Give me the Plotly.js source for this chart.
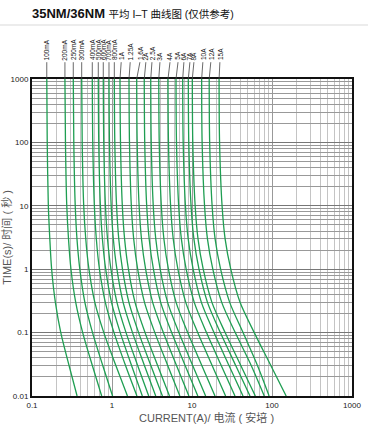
<!DOCTYPE html>
<html><head><meta charset="utf-8">
<script src="https://cdn.plot.ly/plotly-3.0.1.min.js"></script>
<style>html,body{margin:0;padding:0;background:#fff}#chart{width:382px;height:428px}</style>
</head><body><div id="chart"></div>
<script>
// fuse ratings (curve labels)
const ratings = ["100mA","200mA","250mA","300mA","400mA","500mA","600mA","700mA","800mA","1A","1.25A","1.6A","2A","2.5A","3A","4A","5A","6A","7A","8A","10A","12A","15A"];
// times (s) at which the currents are read
const times = [1000, 100, 10, 3, 1, 0.3, 0.1, 0.03, 0.01];
// current (A) of each curve at those times
const c100mA = [0.153, 0.155, 0.160, 0.167, 0.176, 0.196, 0.229, 0.291, 0.366];
const c200mA = [0.258, 0.262, 0.272, 0.286, 0.307, 0.352, 0.430, 0.569, 0.743];
const c250mA = [0.328, 0.333, 0.347, 0.365, 0.396, 0.458, 0.571, 0.768, 1.016];
const c300mA = [0.418, 0.424, 0.443, 0.470, 0.515, 0.610, 0.790, 1.120, 1.560];
const c400mA = [0.567, 0.575, 0.602, 0.637, 0.697, 0.825, 1.060, 1.480, 2.050];
const c500mA = [0.674, 0.683, 0.716, 0.759, 0.834, 0.986, 1.268, 1.760, 2.395];
const c600mA = [0.778, 0.789, 0.828, 0.879, 0.970, 1.153, 1.497, 2.097, 2.876];
const c700mA = [0.917, 0.930, 0.977, 1.039, 1.152, 1.377, 1.804, 2.549, 3.520];
const c800mA = [1.069, 1.084, 1.141, 1.215, 1.352, 1.627, 2.150, 3.067, 4.269];
const c1A    = [1.259, 1.277, 1.346, 1.437, 1.604, 1.941, 2.590, 3.728, 5.229];
const c1_25A = [1.631, 1.654, 1.745, 1.867, 2.093, 2.548, 3.432, 4.983, 7.044];
const c1_6A  = [2.036, 2.064, 2.183, 2.337, 2.632, 3.223, 4.381, 6.420, 9.146];
const c2A    = [2.53, 2.565, 2.715, 2.915, 3.294, 4.058, 5.566, 8.233, 11.82];
const c2_5A  = [3.05, 3.093, 3.279, 3.526, 3.999, 4.956, 6.859, 10.23, 14.80];
const c3A    = [3.84, 3.894, 4.136, 4.454, 5.073, 6.324, 8.832, 13.30, 19.38];
const c4A    = [5.01, 5.080, 5.401, 5.827, 6.663, 8.357, 11.78, 17.90, 26.30];
const c5A    = [6.31, 6.398, 6.815, 7.364, 8.455, 10.67, 15.18, 23.27, 34.45];
const c6A    = [7.65, 7.757, 8.277, 8.958, 10.33, 13.10, 18.82, 29.11, 43.44];
const c7A    = [8.99, 9.116, 9.736, 10.56, 12.23, 15.61, 22.62, 35.30, 53.09];
const c8A    = [10.09, 10.23, 10.95, 11.89, 13.81, 17.74, 25.95, 40.85, 61.91];
const c10A   = [13.2, 13.38, 14.35, 15.60, 18.20, 23.52, 34.72, 55.16, 80.00];
const c12A   = [16.4, 16.63, 17.84, 19.45, 22.78, 29.60, 43.50, 66.00, 92.00];
const c15A   = [21.8, 22.11, 23.76, 25.94, 30.52, 39.87, 59.95, 97.01, 150.4];
const curves = [c100mA,c200mA,c250mA,c300mA,c400mA,c500mA,c600mA,c700mA,c800mA,c1A,c1_25A,c1_6A,c2A,c2_5A,c3A,c4A,c5A,c6A,c7A,c8A,c10A,c12A,c15A];
// axis ticks
const xTickVals = [0.1, 1, 10, 100, 1000];
const xTickText = ["0.1", "1", "10", "100", "1000"];
const yTickVals = [0.01, 0.1, 1, 10, 100, 1000];
const yTickText = ["0.01", "0.1", "1", "10", "100", "1000"];

// label horizontal offsets (fraction of a decade) for the leader lines
const labelShift = [0,0,0,0,0,0,0,0,0,0.015,0.015,0.04,0.02,0.015,0.015,0.025,0.025,0.015,0.02,0.02,0.015,0.02,0.01];

const green = '#1f9e52';
const traces = curves.map((c, i) => ({
  x: c, y: times, type: 'scatter', mode: 'lines', name: ratings[i],
  line: {color: green, width: 1.3, shape: 'spline', smoothing: 0.8},
  hoverinfo: 'skip'
}));

const annotations = [];
const shapes = [];
curves.forEach((c, i) => {
  const lx = Math.log10(c[0]) + labelShift[i];
  annotations.push({
    x: lx, y: 1.053, xref: 'x', yref: 'paper', text: ratings[i], textangle: -90,
    showarrow: false, xanchor: 'center', yanchor: 'bottom',
    font: {family: 'Liberation Sans, Arial, sans-serif', size: 6.5, color: '#111'}
  });
  shapes.push({
    type: 'line', xref: 'x', yref: 'paper', x0: Math.pow(10, lx), x1: c[0], y0: 1.053, y1: 1.0,
    line: {color: '#444', width: 0.8}
  });
});
// x axis title placed as in the reference
annotations.push({
  x: 0.545, y: -0.069, xref: 'paper', yref: 'paper', showarrow: false,
  xanchor: 'center', yanchor: 'middle', text: 'CURRENT(A)/ 电流 ( 安培 )',
  font: {family: 'Liberation Sans, Noto Sans CJK SC, sans-serif', size: 11, color: '#555'}
});
// separator under the heading
shapes.push({type: 'line', xref: 'paper', yref: 'paper', x0: -0.1, x1: 1.05, y0: 1.17, y1: 1.17,
  line: {color: '#e6e6e6', width: 1.5}});

const layout = {
  width: 382, height: 428,
  margin: {l: 32, r: 30, t: 79, b: 32, pad: 0},
  paper_bgcolor: '#fff', plot_bgcolor: '#fff',
  showlegend: false,
  title: {
    text: '<b>35NM/36NM</b> <span style="font-size:10.5px">平均 I–T 曲线图 (仅供参考)</span>',
    x: 0, xref: 'paper', xanchor: 'left', y: 1 - 13/428, yanchor: 'middle',
    font: {family: 'Liberation Sans, Noto Sans CJK SC, sans-serif', size: 13, color: '#111'},
    pad: {l: 0}
  },
  xaxis: {
    type: 'log', range: [-1, 3], tickvals: xTickVals, ticktext: xTickText,
    showgrid: true, gridcolor: '#999', gridwidth: 1,
    minor: {dtick: 'D1', showgrid: true, gridcolor: '#c4c4c4', gridwidth: 1},
    showline: true, linecolor: '#111', linewidth: 2, mirror: true,
    ticks: '', zeroline: false,
    tickfont: {family: 'Liberation Sans, Arial, sans-serif', size: 8, color: '#222'}
  },
  yaxis: {
    type: 'log', range: [-2, 3], tickvals: yTickVals, ticktext: yTickText,
    showgrid: true, gridcolor: '#777', gridwidth: 1,
    minor: {dtick: 'D1', showgrid: true, gridcolor: '#999', gridwidth: 1},
    showline: true, linecolor: '#111', linewidth: 2, mirror: true,
    ticks: '', zeroline: false,
    tickfont: {family: 'Liberation Sans, Arial, sans-serif', size: 8, color: '#222'},
    title: {text: 'TIME(s)/ 时间 ( 秒 )', standoff: 4,
      font: {family: 'Liberation Sans, Noto Sans CJK SC, sans-serif', size: 11, color: '#555'}}
  },
  annotations: annotations,
  shapes: shapes
};

Plotly.newPlot('chart', traces, layout, {displayModeBar: false, staticPlot: true});
</script></body></html>
